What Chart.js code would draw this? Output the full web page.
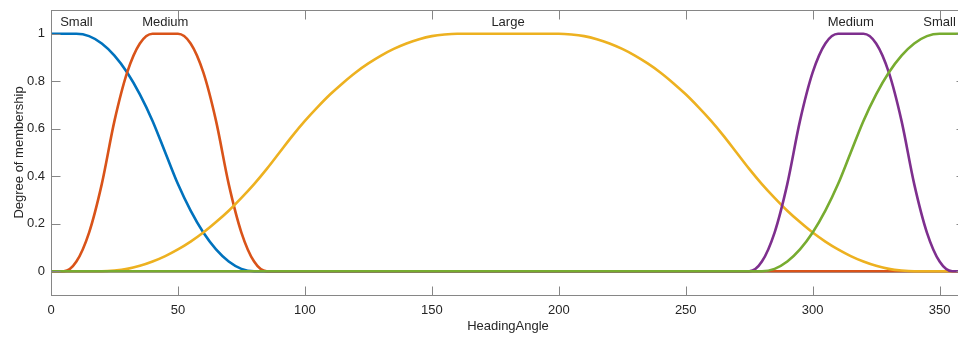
<!DOCTYPE html>
<html>
<head>
<meta charset="utf-8">
<script src="https://cdn.jsdelivr.net/npm/chart.js@4"></script>
<style>
  html, body { margin: 0; padding: 0; background: #fff; overflow: hidden; }
  #wrap { width: 958px; height: 337px; overflow: hidden; }
</style>
</head>
<body>
<div id="wrap"><canvas id="mf" width="966" height="337"></canvas></div>
<script>
// membership curves (x = HeadingAngle, y = degree)
const smallX  = [0, 5, 10, 15, 20, 25, 30, 35, 40, 45, 50, 55, 60, 65, 70, 75, 80, 360];
const smallY  = [1, 1, 1, 0.990, 0.959, 0.908, 0.837, 0.745, 0.633, 0.5, 0.367, 0.255, 0.163, 0.092, 0.041, 0.010, 0, 0];

const mediumX = [0, 5, 10, 15, 20, 25, 30, 35, 40, 45, 50, 55, 60, 65, 70, 75, 80, 85, 360];
const mediumY = [0, 0, 0.041, 0.163, 0.367, 0.633, 0.837, 0.959, 1, 1, 1, 0.959, 0.837, 0.633, 0.367, 0.163, 0.041, 0, 0];

const largeX  = [0, 20, 25, 30, 35, 40, 45, 50, 55, 60, 65, 70, 75, 80, 85, 90, 95, 100, 105, 110, 115, 120,
                 125, 130, 135, 140, 145, 150, 155, 160, 180, 200, 205, 210, 215, 220, 225, 230, 235, 240,
                 245, 250, 255, 260, 265, 270, 275, 280, 285, 290, 295, 300, 305, 310, 315, 320, 325, 330,
                 335, 340, 360];
const largeY  = [0, 0, 0.003, 0.010, 0.023, 0.041, 0.064, 0.092, 0.125, 0.163, 0.207, 0.255, 0.309, 0.367, 0.431,
                 0.5, 0.569, 0.633, 0.691, 0.745, 0.793, 0.837, 0.875, 0.908, 0.936, 0.959, 0.977, 0.990, 0.997,
                 1, 1, 1, 0.997, 0.990, 0.977, 0.959, 0.936, 0.908, 0.875, 0.837, 0.793, 0.745, 0.691, 0.633,
                 0.569, 0.5, 0.431, 0.367, 0.309, 0.255, 0.207, 0.163, 0.125, 0.092, 0.064, 0.041, 0.023,
                 0.010, 0.003, 0, 0];

const medium2X = [0, 275, 280, 285, 290, 295, 300, 305, 310, 315, 320, 325, 330, 335, 340, 345, 350, 355, 360];
const medium2Y = [0, 0, 0.041, 0.163, 0.367, 0.633, 0.837, 0.959, 1, 1, 1, 0.959, 0.837, 0.633, 0.367, 0.163, 0.041, 0, 0];

const small2X = [0, 280, 285, 290, 295, 300, 305, 310, 315, 320, 325, 330, 335, 340, 345, 350, 360];
const small2Y = [0, 0, 0.010, 0.041, 0.092, 0.163, 0.255, 0.367, 0.5, 0.633, 0.745, 0.837, 0.908, 0.959, 0.990, 1, 1];

const mfNames  = ['Small', 'Medium', 'Large', 'Medium', 'Small'];
const mfLabelX = [10, 45, 180, 315, 350];
const mfColors = ['#0072BD', '#D95319', '#EDB120', '#7E2F8E', '#77AC30'];

const xTicks = [0, 50, 100, 150, 200, 250, 300, 350];
const yTicks = [0, 0.2, 0.4, 0.6, 0.8, 1];

const FONT = '"Liberation Sans", Arial, Helvetica, sans-serif';
const TEXT = '#262626';
const AXIS = '#868686';

const series = [[smallX, smallY], [mediumX, mediumY], [largeX, largeY], [medium2X, medium2Y], [small2X, small2Y]];

// box, inward ticks and mf names, like matlab's plotmf
const boxPlugin = {
    id: 'box',
    afterDraw(chart) {
        const { ctx, chartArea: a, scales: { x, y } } = chart;
        const L = Math.round(a.left) + 0.5, R = Math.round(a.right) + 0.5;
        const T = Math.round(a.top) + 0.5, B = Math.round(a.bottom) + 0.5;
        ctx.save();
        ctx.strokeStyle = AXIS;
        ctx.lineWidth = 1;
        ctx.strokeRect(L, T, R - L, B - T);
        ctx.beginPath();
        xTicks.forEach(v => {
            const px = Math.round(x.getPixelForValue(v)) + 0.5;
            ctx.moveTo(px, B); ctx.lineTo(px, B - 9);
            ctx.moveTo(px, T); ctx.lineTo(px, T + 9);
        });
        yTicks.forEach(v => {
            const py = Math.round(y.getPixelForValue(v)) + 0.5;
            ctx.moveTo(L, py); ctx.lineTo(L + 9, py);
            ctx.moveTo(R, py); ctx.lineTo(R - 9, py);
        });
        ctx.stroke();

        ctx.font = '13px ' + FONT;
        ctx.fillStyle = TEXT;
        ctx.textAlign = 'center';
        ctx.textBaseline = 'middle';
        mfNames.forEach((name, i) => {
            ctx.fillText(name, x.getPixelForValue(mfLabelX[i]), y.getPixelForValue(1.047));
        });
        ctx.restore();
    }
};

new Chart(document.getElementById('mf'), {
    type: 'line',
    data: {
        datasets: series.map((s, i) => ({
            data: s[0].map((v, k) => ({ x: v, y: s[1][k] })),
            borderColor: mfColors[i],
            borderWidth: 2.6,
            pointRadius: 0,
            fill: false,
            cubicInterpolationMode: 'monotone',
            order: series.length - i
        }))
    },
    options: {
        responsive: false,
        animation: false,
        devicePixelRatio: 1,
        layout: { padding: { top: 10, right: 1, left: 0, bottom: 0 } },
        plugins: { legend: { display: false }, tooltip: { enabled: false } },
        scales: {
            x: {
                type: 'linear',
                min: 0,
                max: 360,
                grid: { display: false, drawTicks: false },
                border: { display: false },
                afterBuildTicks: s => { s.ticks = xTicks.map(v => ({ value: v })); },
                afterFit: s => { s.height = 42; s.paddingLeft = 0; s.paddingRight = 0; },
                ticks: { padding: 8, color: TEXT, font: { family: FONT, size: 13 }, maxRotation: 0 },
                title: { display: true, text: 'HeadingAngle', color: TEXT, font: { family: FONT, size: 13 }, padding: { top: 2, bottom: 3 } }
            },
            y: {
                min: -0.1,
                max: 1.1,
                grid: { display: false, drawTicks: false },
                border: { display: false },
                afterBuildTicks: s => { s.ticks = yTicks.map(v => ({ value: v })); },
                afterFit: s => { s.width = 51; s.paddingTop = 0; s.paddingBottom = 0; },
                ticks: { padding: 6, color: TEXT, font: { family: FONT, size: 13 }, callback: v => String(v) },
                title: { display: true, text: 'Degree of membership', color: TEXT, font: { family: FONT, size: 13 }, padding: { top: 12, bottom: 4 } }
            }
        }
    },
    plugins: [boxPlugin]
});
</script>
</body>
</html>
